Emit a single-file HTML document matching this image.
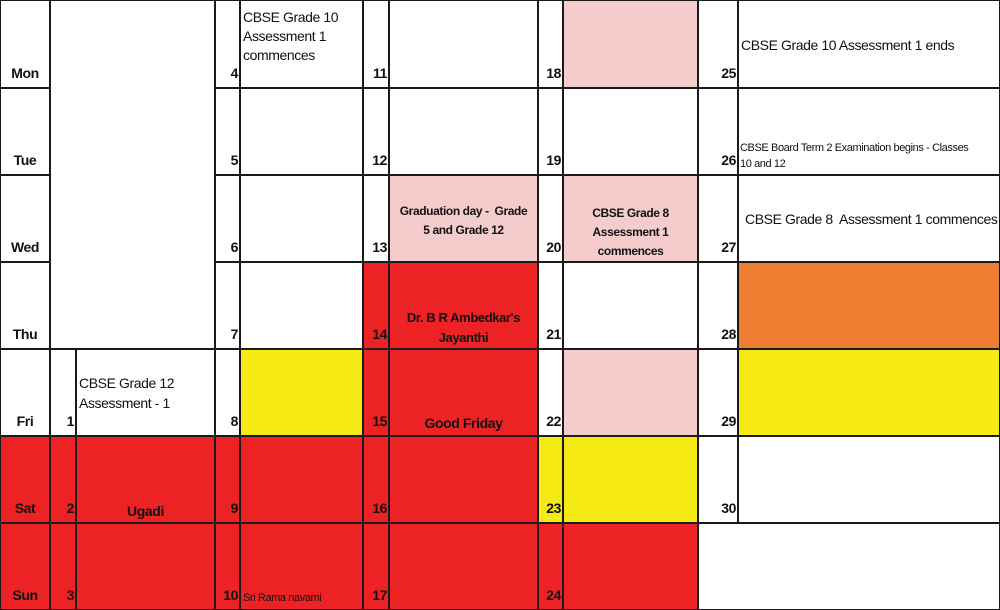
<!DOCTYPE html>
<html><head><meta charset="utf-8">
<style>
body{margin:0;background:#fff;}
#cal{position:relative;width:1000px;height:610px;overflow:hidden;background:#fff;font-family:"Liberation Sans",sans-serif;}
.c{position:absolute;box-sizing:border-box;border:2px solid #1a1a1a;}
.t{position:absolute;white-space:nowrap;color:#111;letter-spacing:-0.4px;}
.b{font-weight:bold;}
</style></head><body>
<div id="cal"></div>
<script>
const colX=[0,50,76,215,240,363,389,538,563,698,738,1000];
const rowY=[0,88,175,262,349,436,523,610];
const dayNames=["Mon","Tue","Wed","Thu","Fri","Sat","Sun"];
const weeks=[[1,2],[3,4],[5,6],[7,8],[9,10]];
const dates=[[null,null,null,null,1,2,3],[4,5,6,7,8,9,10],[11,12,13,14,15,16,17],[18,19,20,21,22,23,24],[25,26,27,28,29,30,null]];
const W="#fff",R="#ED2224",P="#F4CCCC",Y="#F5EA14",O="#ED7D31";
const dayColors=[W,W,W,W,W,R,R];
const numColors=[[W,W,W,W,W,R,R],[W,W,W,W,W,R,R],[W,W,W,R,R,R,R],[W,W,W,W,W,Y,R],[W,W,W,W,W,W,W]];
const txtColors=[[W,W,W,W,W,R,R],[W,W,W,W,Y,R,R],[W,W,P,R,R,R,R],[P,W,P,W,P,Y,R],[W,W,W,O,Y,W,W]];
const cal=document.getElementById('cal');
function box(x0,y0,x1,y1,bg,name){
  const d=document.createElement('div');
  d.className='c';
  d.style.left=(x0-1)+'px';d.style.top=(y0-1)+'px';d.style.width=(x1-x0+2)+'px';d.style.height=(y1-y0+2)+'px';
  d.style.background=bg;
  
  
  cal.appendChild(d);return d;
}
function txt(html,x,y,size,bold,align,w,name,lh){
  const t=document.createElement('div');
  t.className='t'+(bold?' b':'');
  t.innerHTML=html;
  t.style.fontSize=size+'px';
  t.style.lineHeight=(lh||size+4)+'px';
  t.style.top=y+'px';
  if(align==='center'){t.style.left=x+'px';t.style.width=w+'px';t.style.textAlign='center';}
  else if(align==='right'){t.style.left=(x-w)+'px';t.style.width=w+'px';t.style.textAlign='right';}
  else t.style.left=x+'px';
  
  
  cal.appendChild(t);
}
for(let d=0;d<7;d++){
  box(colX[0],rowY[d],colX[1],rowY[d+1],dayColors[d],'day-label-cell');
  txt(dayNames[d],0,rowY[d+1]-24,14,true,'center',50,'day-label-'+dayNames[d].toLowerCase());
}
box(colX[1],rowY[0],colX[3],rowY[4],W,'blank-before-month');
for(let w=0;w<weeks.length;w++){
  const [nc,tc]=weeks[w];
  for(let d=0;d<7;d++){
    if(dates[w][d]===null){
      if(w===4) box(colX[nc],rowY[d],colX[tc+1],rowY[d+1],W,'blank-after-month');
      continue;
    }
    box(colX[nc],rowY[d],colX[nc+1],rowY[d+1],numColors[w][d],'date-number-cell');
    box(colX[tc],rowY[d],colX[tc+1],rowY[d+1],txtColors[w][d],'event-cell');
    txt(String(dates[w][d]),colX[nc+1]-2,rowY[d+1]-24,14,true,'right',30,'date-'+dates[w][d]);
  }
}
txt("CBSE Grade 10<br>Assessment 1<br>commences",243,8,14,false,'left',0,'event-grade10-commences',19);
txt("CBSE Grade 12<br>Assessment - 1",79,373,14,false,'left',0,'event-grade12-assessment',20);
txt("Ugadi",76,502,14,true,'center',139,'event-ugadi');
txt("Sri Rama navami",243,591,11,false,'left',0,'event-sri-rama-navami');
txt("Graduation day -&nbsp; Grade<br>5 and Grade 12",389,202,12,true,'center',149,'event-graduation-day',19);
txt("Dr. B R Ambedkar's<br>Jayanthi",389,308,13,true,'center',149,'event-ambedkar-jayanthi',20);
txt("Good Friday",389,414,14,true,'center',149,'event-good-friday');
txt("CBSE Grade 8<br>Assessment 1<br>commences",563,204,12,true,'center',135,'event-grade8-pink',19);
txt("CBSE Grade 10 Assessment 1 ends",741,36,14,false,'left',0,'event-grade10-ends');
txt("CBSE Board Term 2 Examination begins - Classes<br>10 and 12",740,140,11,false,'left',0,'event-board-exam',16);
txt("CBSE Grade 8&nbsp; Assessment 1 commences",745,210,14,false,'left',0,'event-grade8-commences');
</script>
</body></html>
